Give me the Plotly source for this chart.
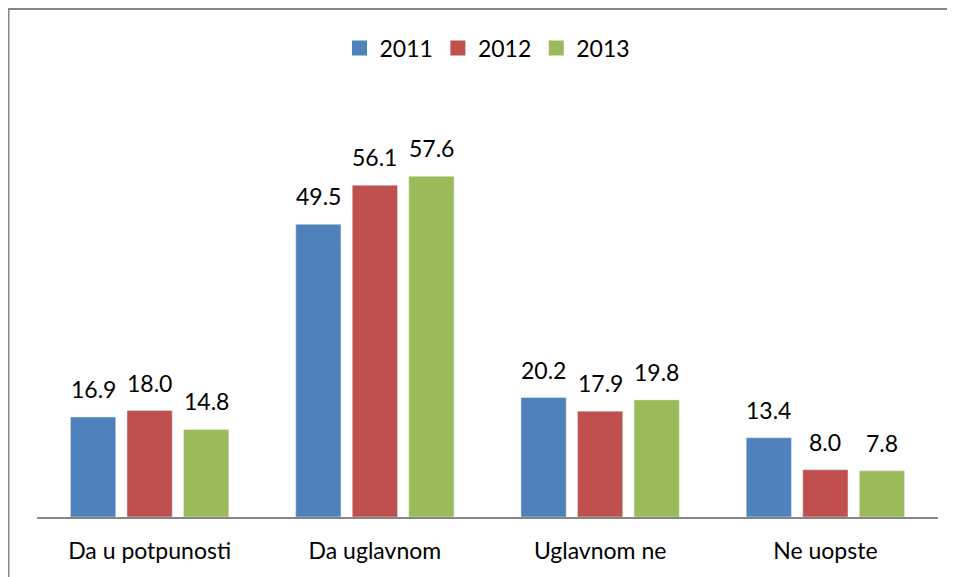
import plotly.graph_objects as go

categories = ["Da u potpunosti", "Da uglavnom", "Uglavnom ne", "Ne uopste"]
years = ["2011", "2012", "2013"]
v2011 = [16.9, 49.5, 20.2, 13.4]
v2012 = [18.0, 56.1, 17.9, 8.0]
v2013 = [14.8, 57.6, 19.8, 7.8]
colors = ["#4F81BD", "#C0504D", "#9BBB59"]

FONT = "Lato"
FS = 23

# page body has an 8px offset; figure coords = window coords - 8
W, H = 947, 569
ml, mr, mt, mb = 29, 17, 95, 60
pw, ph = W - ml - mr, H - mt - mb

BARGAP = 0.247
GROUPGAP = 0.20
slot = (1 - BARGAP) / 3

fig = go.Figure()
for name, vals, col in zip(years, [v2011, v2012, v2013], colors):
    fig.add_trace(go.Bar(x=categories, y=vals, name=name, marker_color=col,
                         showlegend=False))
# legend entries with larger square swatches
for name, col in zip(years, colors):
    fig.add_trace(go.Scatter(x=[None], y=[None], mode="markers", name=name,
                             marker=dict(symbol="square", size=15, color=col)))

for k, vals in enumerate([v2011, v2012, v2013]):
    off = (k - 1) * slot
    for i, v in enumerate(vals):
        fig.add_annotation(x=i + off, y=v, xref="x", yref="y", text=f"{v:.1f}",
                           showarrow=False, yanchor="bottom", yshift=12,
                           font=dict(size=FS, color="black", family=FONT))

def px_x(p):
    return (p - ml) / pw

def px_y(p):
    return (H - mb - p) / ph

fig.add_shape(type="rect", xref="paper", yref="paper",
              x0=px_x(0.5), x1=px_x(990), y0=px_y(620), y1=px_y(1),
              line=dict(color="#868686", width=2), fillcolor="rgba(0,0,0,0)", layer="below")

fig.update_layout(
    width=W, height=H, autosize=False,
    margin=dict(l=ml, r=mr, t=mt, b=mb),
    paper_bgcolor="white", plot_bgcolor="white",
    barmode="group", bargap=BARGAP, bargroupgap=GROUPGAP,
    font=dict(family=FONT, color="black"),
    showlegend=True,
    legend=dict(orientation="h", x=0.5, xanchor="center", y=px_y(40), yanchor="middle",
                font=dict(size=FS, family=FONT), itemwidth=30),
    xaxis=dict(showline=True, linecolor="#868686", linewidth=2, ticks="",
               tickfont=dict(size=FS, family=FONT), showgrid=False,
               ticklabelstandoff=12, automargin=False),
    yaxis=dict(range=[0, 70], visible=False, showgrid=False),
)

fig.write_html("out.html")
